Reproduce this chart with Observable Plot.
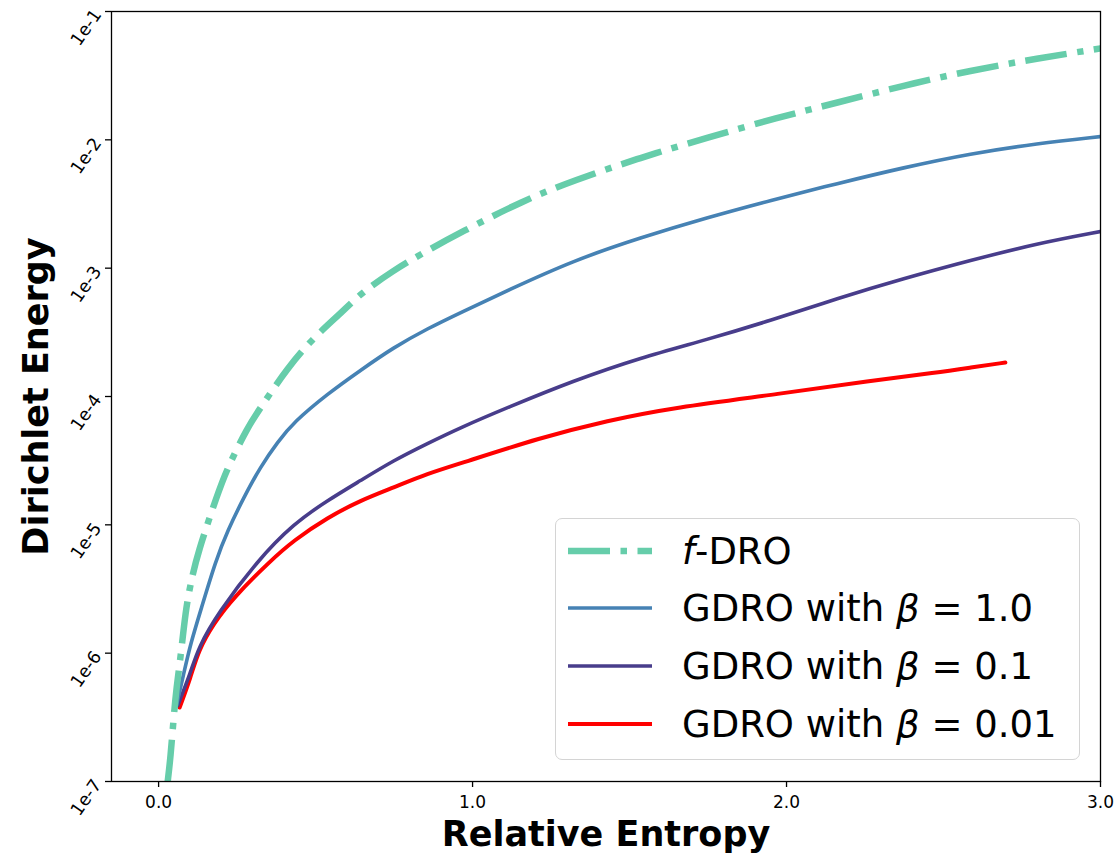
<!DOCTYPE html>
<html>
<head>
<meta charset="utf-8">
<script src="https://cdn.jsdelivr.net/npm/d3@7"></script>
<script src="https://cdn.jsdelivr.net/npm/@observablehq/plot@0.6"></script>
<style>
  body { margin: 0; background: #fff; font-family: "DejaVu Sans", sans-serif; }
  #wrap { position: relative; width: 1115px; height: 856px; }
  #legend { position: absolute; left: 555px; top: 518px; width: 525px; height: 242px;
    border: 1.5px solid #d4d4d4; border-radius: 7px; background: rgba(255,255,255,0.85);
    box-sizing: border-box; }
  .row { position: absolute; left: 0; height: 50px; display: flex; align-items: center; }
  .row svg { margin-left: 12px; }
  .row span { margin-left: 30px; font-size: 37px; color: #000; white-space: nowrap; }
</style>
</head>
<body>
<div id="wrap"></div>
<script>
// ---- data ----
const fdroX = [0.029,0.038,0.048,0.057,0.070,0.086,0.102,0.124,0.188,0.220,0.283,0.325,0.411,0.494,0.580,0.643,0.748,0.834,0.962,1.162,1.322,1.535,1.748,1.971,2.162,2.373,2.586,2.799,3.0];
const fdroY = [1.0e-7,1.54e-7,3.16e-7,5.40e-7,9.25e-7,2.15e-6,3.49e-6,5.98e-6,1.75e-5,2.80e-5,5.73e-5,8.20e-5,1.68e-4,2.88e-4,4.44e-4,6.35e-4,9.59e-4,1.28e-3,1.90e-3,3.37e-3,4.82e-3,7.28e-3,1.04e-2,1.49e-2,1.95e-2,2.65e-2,3.47e-2,4.31e-2,5.15e-2];

const b1X = [0.057,0.080,0.102,0.134,0.182,0.220,0.271,0.325,0.379,0.430,0.538,0.643,0.748,0.857,0.962,1.111,1.322,1.535,1.748,1.949,2.162,2.373,2.586,2.799,3.0];
const b1Y = [3.91e-7,6.93e-7,1.19e-6,2.15e-6,5.27e-6,9.03e-6,1.63e-5,2.85e-5,4.41e-5,6.30e-5,1.05e-4,1.60e-4,2.41e-4,3.39e-4,4.51e-4,6.70e-4,1.15e-3,1.73e-3,2.48e-3,3.37e-3,4.57e-3,6.08e-3,7.82e-3,9.35e-3,1.06e-2];

const b01X = [0.061,0.102,0.127,0.188,0.315,0.430,0.538,0.643,0.748,0.857,0.962,1.111,1.322,1.535,1.748,1.949,2.162,2.373,2.586,2.799,3.0];
const b01Y = [3.91e-7,7.06e-7,1.11e-6,2.04e-6,5.27e-6,1.02e-5,1.55e-5,2.21e-5,3.17e-5,4.31e-5,5.73e-5,8.20e-5,1.33e-4,2.01e-4,2.78e-4,3.91e-4,5.81e-4,8.30e-4,1.15e-3,1.56e-3,1.93e-3];

const b001X = [0.067,0.102,0.127,0.175,0.239,0.357,0.430,0.538,0.643,0.748,0.857,0.962,1.217,1.430,1.640,1.981,2.268,2.481,2.586,2.697];
const b001Y = [3.77e-7,6.46e-7,1.05e-6,1.70e-6,2.72e-6,5.27e-6,7.55e-6,1.14e-5,1.55e-5,1.95e-5,2.51e-5,3.01e-5,4.79e-5,6.50e-5,8.20e-5,1.05e-4,1.33e-4,1.54e-4,1.68e-4,1.84e-4];

const xTicks = [0, 1, 2, 3];
const yTicks = [1e-7, 1e-6, 1e-5, 1e-4, 1e-3, 1e-2, 1e-1];
const seriesNames = ["f-DRO", "GDRO with β = 1.0", "GDRO with β = 0.1", "GDRO with β = 0.01"];
const colors = ["#66cdaa", "#4682b4", "#483d8b", "#ff0000"];

const toRows = (xs, ys) => xs.map((x, i) => ({x, y: ys[i]}));
const fdro = toRows(fdroX, fdroY);
const g1 = toRows(b1X, b1Y);
const g01 = toRows(b01X, b01Y);
const g001 = toRows(b001X, b001Y);

const chart = Plot.plot({
  width: 1115,
  height: 856,
  marginLeft: 111,
  marginRight: 15,
  marginTop: 11,
  marginBottom: 75,
  style: { fontFamily: "DejaVu Sans, sans-serif", background: "white", color: "black" },
  x: { domain: [-0.15, 3.0] },
  y: { type: "log", domain: [1e-7, 1e-1] },
  marks: [
    Plot.lineY(g001, {x: "x", y: "y", stroke: colors[3], strokeWidth: 4, curve: "basis", clip: true}),
    Plot.lineY(g01, {x: "x", y: "y", stroke: colors[2], strokeWidth: 3.6, curve: "basis", clip: true}),
    Plot.lineY(g1, {x: "x", y: "y", stroke: colors[1], strokeWidth: 3.6, curve: "basis", clip: true}),
    Plot.lineY(fdro, {x: "x", y: "y", stroke: colors[0], strokeWidth: 6.5, strokeDasharray: "42,10.5,6.5,10.5", strokeLinecap: "butt", curve: "basis", clip: true}),
    Plot.frame({stroke: "black", strokeWidth: 1.3}),
    Plot.axisX({ticks: xTicks, tickFormat: d => d.toFixed(1), tickSize: 6, tickPadding: 8, fontSize: 17, label: null, strokeWidth: 1.3}),
    Plot.axisY({ticks: yTicks, tickFormat: d => "1e" + Math.round(Math.log10(d)), tickSize: 6, tickPadding: 8, tickRotate: -55, fontSize: 17.5, label: null, strokeWidth: 1.3}),
    Plot.text(["Relative Entropy"], {frameAnchor: "bottom", lineAnchor: "middle", dy: 53, text: d => d, fontSize: 35, fontWeight: "bold"}),
    Plot.text(["Dirichlet Energy"], {frameAnchor: "left", textAnchor: "middle", lineAnchor: "middle", dx: -75, rotate: -90, text: d => d, fontSize: 35, fontWeight: "bold"})
  ]
});
const wrap = document.getElementById("wrap");
wrap.appendChild(chart);

// legend
const legend = document.createElement("div");
legend.id = "legend";
const rowsTop = [7, 64, 122, 180];
seriesNames.forEach((name, i) => {
  const row = document.createElement("div");
  row.className = "row";
  row.style.top = rowsTop[i] + "px";
  const dash = i === 0 ? 'stroke-dasharray="42,10.5,6.5,10.5"' : "";
  const sw = i === 0 ? 6.5 : (i === 3 ? 4 : 3.6);
  let label;
  if (i === 0) label = '<i>f</i>-DRO';
  else label = name.replace("β", "<i>β</i>");
  row.innerHTML = `<svg width="84" height="20"><line x1="0" x2="84" y1="10" y2="10" stroke="${colors[i]}" stroke-width="${sw}" ${dash}/></svg><span>${label}</span>`;
  legend.appendChild(row);
});
wrap.appendChild(legend);
</script>
</body>
</html>
